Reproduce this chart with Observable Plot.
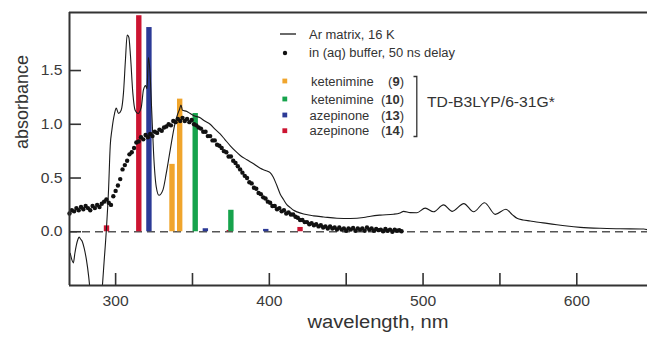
<!DOCTYPE html>
<html><head><meta charset="utf-8">
<script src="https://cdn.jsdelivr.net/npm/d3@7"></script>
<script src="https://cdn.jsdelivr.net/npm/@observablehq/plot@0.6"></script>
<style>
html,body{margin:0;padding:0;background:#fff;}
#chart{width:647px;height:337px;overflow:hidden;}
</style></head><body><div id="chart"></div>
<script>
// Ar matrix, 16 K (solid line)
const arWavelength = [270.5,271.5,272.5,273.5,274.4,275.5,276.3,277.3,278.3,279.5,281,282.5,283.5,285,290,291.3,292.5,293.9,295.4,296.5,297.6,299.3,300.4,301.9,303.6,305.1,306.4,307.5,308.6,309.7,311.2,312.7,314.5,316.7,318.1,319.5,320.4,321.3,322.3,323.5,324.7,326.4,328.2,330.8,332.9,335.5,338.5,340.5,341.6,342.5,343.5,346.4,348.5,351,355,358,361.5,365,368,371,374.6,378,381.1,385.4,390,394.1,397.5,400.5,402.5,404.9,407.1,409.2,411.5,413.6,415.8,418,422.3,428.8,435.3,444,452.7,461.3,466,472.2,480.8,485,487.3,491.7,496,501.4,506.8,513.3,519,526.5,532.9,540,547,553.9,558,561.1,565,569.7,575,580.6,587,593.6,602.3,615.3,628.3,643.5,646];
const arAbsorbance = [-0.20,-0.26,-0.29,-0.20,-0.13,-0.07,-0.05,-0.07,-0.09,-0.15,-0.26,-0.42,-0.56,-0.70,-0.70,-0.52,-0.28,0.0,0.39,0.80,0.95,1.10,1.15,1.10,1.13,1.29,1.60,1.83,1.81,1.63,1.29,1.13,1.10,1.16,1.32,1.36,1.33,1.62,1.50,1.12,0.73,0.42,0.34,0.39,0.54,0.76,1.00,1.10,1.14,1.18,1.13,1.12,1.10,1.08,1.06,1.03,1.00,0.95,0.91,0.86,0.80,0.75,0.71,0.67,0.63,0.59,0.57,0.55,0.51,0.43,0.35,0.30,0.25,0.225,0.20,0.185,0.165,0.148,0.138,0.126,0.124,0.132,0.145,0.155,0.163,0.175,0.19,0.178,0.177,0.22,0.186,0.25,0.19,0.262,0.186,0.27,0.162,0.21,0.16,0.125,0.11,0.10,0.088,0.078,0.065,0.053,0.041,0.032,0.028,0.025,0.018];

// in (aq) buffer, 50 ns delay (dots)
const aqWavelength = [270,271.5,273,274.5,276,277.5,279,280.5,282,283.5,285,286.5,288,289.5,291,292.5,294,295.5,297,298.5,300,301.5,303,304.5,306,307.5,309,310.5,312,313.5,315,316.5,318,319.5,321,322.5,324,325.5,327,328.5,330,331.5,333,334.5,336,337.5,339,340.5,342,343.5,345,346.5,348,349.5,351,352.5,354,355.5,357,358.5,360,361.5,363,364.5,366,367.5,369,370.5,372,373.5,375,376.5,378,379.5,381,382.5,384,385.5,387,388.5,390,391.5,393,394.5,396,397.5,399,400.5,402,403.5,405,406.5,408,409.5,411,412.5,414,415.5,417,418.5,420,421.5,423,424.5,426,427.5,429,430.5,432,433.5,435,436.5,438,439.5,441,442.5,444,445.5,447,448.5,450,451.5,453,454.5,456,457.5,459,460.5,462,463.5,465,466.5,468,469.5,471,472.5,474,475.5,477,478.5,480,481.5,483,484.5,486];
const aqAbsorbance = [0.17,0.20,0.19,0.22,0.20,0.23,0.21,0.24,0.22,0.20,0.24,0.22,0.25,0.23,0.26,0.28,0.30,0.27,0.25,0.33,0.38,0.43,0.49,0.58,0.62,0.66,0.72,0.74,0.78,0.83,0.84,0.88,0.86,0.90,0.88,0.91,0.89,0.93,0.92,0.95,0.94,0.97,0.98,1.00,0.99,1.03,1.02,1.05,1.03,1.06,1.03,1.05,1.02,1.04,1.00,0.99,0.97,0.96,0.93,0.93,0.89,0.89,0.85,0.85,0.81,0.80,0.78,0.75,0.74,0.70,0.70,0.66,0.64,0.61,0.58,0.55,0.52,0.50,0.46,0.45,0.41,0.40,0.36,0.35,0.32,0.31,0.28,0.27,0.24,0.24,0.21,0.22,0.19,0.20,0.17,0.18,0.16,0.16,0.14,0.13,0.11,0.11,0.09,0.09,0.07,0.08,0.06,0.07,0.05,0.06,0.04,0.05,0.03,0.05,0.03,0.04,0.02,0.04,0.02,0.03,0.01,0.03,0.02,0.035,0.01,0.03,0.02,0.03,0.01,0.04,0.02,0.03,0.01,0.025,0.015,0.02,0.005,0.025,0.01,0.02,0.0,0.02,0.01,0.015,0.005];

// TD-B3LYP/6-31G* stick spectra
const stickWavelength = [315.4,294.4,420.3,374.3,322.0,358.7,398.0,337.0,342.0,352.1,375.3];
const stickIntensity  = [2.01,0.055,0.04,0.012,1.90,0.028,0.022,0.627,1.234,1.10,0.20];
const stickSpecies    = ["14","14","14","14","13","13","13","9","9","10","10"];

const speciesNames  = ["9","10","13","14"];
const speciesLabels = ["ketenimine","ketenimine","azepinone","azepinone"];
const speciesColors = ["#f0a52c","#16a34c","#2c3a96","#cc1431"];

const xDomain = [270, 646];
const yDomain = [-0.5, 2.04];
const xTicksMinor = [300,350,400,450,500,550,600];
const xTicksMajor = [300,400,500,600];
const yTicks = [0,0.5,1.0,1.5];

const ar = arWavelength.map((x,i)=>({x, y: arAbsorbance[i]}));
const aq = aqWavelength.map((x,i)=>({x, y: aqAbsorbance[i]}));
const sticks = stickWavelength.map((x,i)=>({x, y: stickIntensity[i], s: stickSpecies[i]}));
const halfWidth = 1.75;
const fontFam = "'Liberation Sans', Arial, sans-serif";

const W = 647, H = 337, mL = 69, mR = 0, mT = 12, mB = 52;
const frameW = W - mL - mR, frameH = H - mT - mB, tickLen = 12;

const plot = Plot.plot({
  width: W, height: H,
  marginLeft: mL, marginRight: mR, marginTop: mT, marginBottom: mB,
  style: {fontFamily: fontFam, background: "white"},
  x: {domain: xDomain},
  y: {domain: yDomain},
  color: {domain: speciesNames, range: speciesColors},
  marks: [
    Plot.ruleY([0], {stroke: "#555", strokeWidth: 1.4, strokeDasharray: "8,5"}),
    Plot.rectY(sticks, {x1: d => d.x - halfWidth, x2: d => d.x + halfWidth, y1: 0, y2: "y", fill: "s"}),
    Plot.line(ar, {x: "x", y: "y", stroke: "#1a1a1a", strokeWidth: 1.1, clip: true, curve: "monotone-x"}),
    Plot.dot(aq, {x: "x", y: "y", r: 2.2, fill: "#111", stroke: "none"}),
    // inward tick marks
    Plot.ruleX(xTicksMinor, {x: d => d, y1: yDomain[1], y2: yDomain[0], insetTop: frameH - tickLen, stroke: "#333", strokeWidth: 1.6}),
    Plot.ruleY(yTicks, {y: d => d, x1: xDomain[0], x2: xDomain[1], insetRight: frameW - tickLen, stroke: "#333", strokeWidth: 1.6}),
    Plot.axisX({ticks: xTicksMajor, tickSize: 0, tickPadding: 11, fontSize: 14, fill: "#3a3a3a", label: null}),
    Plot.axisY({ticks: yTicks, tickSize: 0, tickPadding: 7, tickFormat: d3.format(".1f"), fontSize: 14, fill: "#3a3a3a", label: null}),
    Plot.ruleX([xDomain[0]], {stroke: "#333", strokeWidth: 2}),
    Plot.ruleY(yDomain, {stroke: "#333", strokeWidth: 2}),
    Plot.text(["wavelength, nm"], {text: d => d, frameAnchor: "bottom", dx: 19.5, dy: 42.5, fontSize: 18, fill: "#333"}),
    Plot.text(["absorbance"], {text: d => d, frameAnchor: "left", rotate: -90, dx: -47, fontSize: 18, fill: "#333"})
  ]
});
document.getElementById("chart").append(plot);

// legend
const svg = d3.select(plot);
const lg = svg.append("g").attr("font-family", fontFam).attr("fill", "#333").attr("text-anchor", "start");
lg.append("line").attr("x1", 280).attr("x2", 296).attr("y1", 34).attr("y2", 34).attr("stroke", "#1a1a1a").attr("stroke-width", 1.3);
lg.append("text").attr("x", 309).attr("y", 38.5).attr("font-size", 12).attr("text-anchor", "start").attr("class", "lgt").text("Ar matrix, 16 K");
lg.append("circle").attr("cx", 285).attr("cy", 53).attr("r", 2.2).attr("fill", "#111");
lg.append("text").attr("x", 309).attr("y", 57).attr("font-size", 12).attr("text-anchor", "start").attr("class", "lgt").text("in (aq) buffer, 50 ns delay");
const rowY = [81, 99, 115, 130.7];
speciesNames.forEach((s, i) => {
  lg.append("rect").attr("x", 282.4).attr("y", rowY[i] - 2.4).attr("width", 4.8).attr("height", 4.8).attr("fill", speciesColors[i]);
  lg.append("text").attr("x", i < 2 ? 311 : 309.5).attr("y", rowY[i] + 4.5).attr("font-size", 12).attr("text-anchor", "start").attr("class", "lgt").text(speciesLabels[i]);
  const t = lg.append("text").attr("x", 404).attr("y", rowY[i] + 4.5).attr("font-size", 12).attr("text-anchor", "end").attr("class", "lgt");
  t.append("tspan").text("(");
  t.append("tspan").attr("font-weight", "bold").text(s);
  t.append("tspan").text(")");
});
lg.append("path").attr("d", "M413.5,76.5H416.8V136.5H413.5").attr("fill", "none").attr("stroke", "#333").attr("stroke-width", 1.3);
lg.append("text").attr("x", 427).attr("y", 106.5).attr("font-size", 14).attr("text-anchor", "start").attr("class", "td").text("TD-B3LYP/6-31G*");

// horizontal stretch of text to match reference proportions
plot.querySelectorAll("text").forEach(el => {
  if (el.textContent === "absorbance" || el.textContent === "") return;
  const f = el.classList.contains("lgt") ? 1.08 : 1.12;
  const w = el.getComputedTextLength();
  if (w > 0) {
    el.setAttribute("textLength", (w * f).toFixed(2));
    el.setAttribute("lengthAdjust", "spacingAndGlyphs");
  }
});
</script></body></html>
